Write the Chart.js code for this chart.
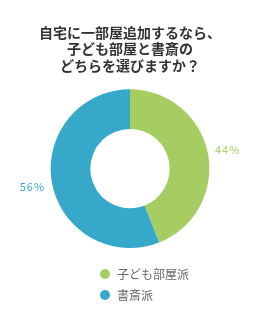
<!DOCTYPE html>
<html>
<head>
<meta charset="utf-8">
<script src="https://cdn.jsdelivr.net/npm/chart.js@4"></script>
<style>
  html, body { margin: 0; padding: 0; background: #fff; }
  #wrap { width: 260px; height: 310px; }
</style>
</head>
<body>
<div id="wrap"><canvas id="myChart"></canvas></div>
<script>
/* data */
const titleLines = ['自宅に一部屋追加するなら、', '子ども部屋と書斎の', 'どちらを選びますか？'];
const categories = ['子ども部屋派', '書斎派'];
const shares = [44, 56];
const colors = ['#a5cd62', '#36a9cb'];

const FONT = '"Noto Sans CJK JP", "Noto Sans", sans-serif';

// percent labels outside each slice
const outerLabels = {
  id: 'outerLabels',
  afterDatasetsDraw(chart) {
    const ctx = chart.ctx;
    const meta = chart.getDatasetMeta(0);
    ctx.save();
    ctx.font = '11px ' + FONT;
    ctx.letterSpacing = '1px';
    ctx.textAlign = 'center';
    ctx.textBaseline = 'middle';
    meta.data.forEach((arc, i) => {
      const mid = (arc.startAngle + arc.endAngle) / 2;
      const r = arc.outerRadius + 20;
      ctx.fillStyle = colors[i];
      ctx.fillText(shares[i] + '%', arc.x + Math.cos(mid) * r, arc.y + Math.sin(mid) * r);
    });
    ctx.restore();
  }
};

// vertical legend under the doughnut
const sideLegend = {
  id: 'sideLegend',
  afterDraw(chart) {
    const ctx = chart.ctx;
    ctx.save();
    ctx.font = '12px ' + FONT;
    ctx.textBaseline = 'middle';
    categories.forEach((name, i) => {
      const y = 274 + i * 21;
      ctx.fillStyle = colors[i];
      ctx.beginPath();
      ctx.arc(105, y, 5, 0, Math.PI * 2);
      ctx.fill();
      ctx.fillStyle = '#666';
      ctx.fillText(name, 117, y);
    });
    ctx.restore();
  }
};

document.addEventListener('DOMContentLoaded', () => {
  const canvas = document.getElementById('myChart');
  new Chart(canvas.getContext('2d'), {
    type: 'doughnut',
    data: {
      labels: categories,
      datasets: [{
        data: shares,
        backgroundColor: colors,
        borderWidth: 0,
        hoverOffset: 0,
      }],
    },
    options: {
      responsive: true,
      maintainAspectRatio: false,
      animation: false,
      cutout: '50%',
      layout: { padding: { bottom: 62 } },
      plugins: {
        legend: { display: false },
        tooltip: { enabled: false },
        title: {
          display: true,
          text: titleLines,
          color: '#333',
          font: { family: FONT, size: 14, weight: 'bold', lineHeight: 1.15 },
          padding: { top: 25, bottom: 16 },
        },
      },
    },
    plugins: [outerLabels, sideLegend],
  });
});
</script>
</body>
</html>
